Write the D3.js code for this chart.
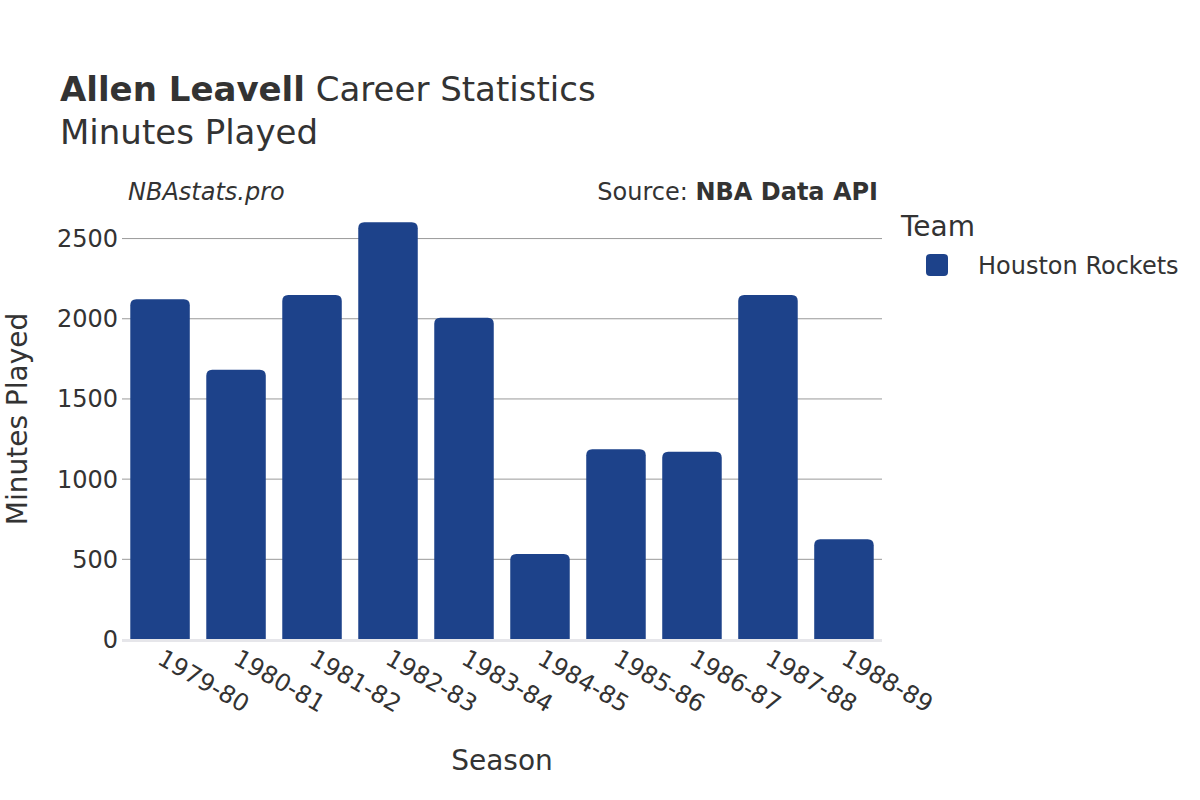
<!DOCTYPE html>
<html>
<head>
<meta charset="utf-8">
<script src="https://cdn.jsdelivr.net/npm/d3@7"></script>
<style>
  body { margin: 0; background: #fff; }
  svg, svg text { font-family: "DejaVu Sans", sans-serif; }
</style>
</head>
<body>
<svg width="1200" height="800"></svg>
<script>
const seasons = ["1979-80", "1980-81", "1981-82", "1982-83", "1983-84",
                 "1984-85", "1985-86", "1986-87", "1987-88", "1988-89"];
const minutes = [2118, 1679, 2145, 2598, 2003, 530, 1183, 1168, 2145, 622];
const yTicks = [0, 500, 1000, 1500, 2000, 2500];
const teams = ["Houston Rockets"];
const teamColors = ["#1d428a"];

const svg = d3.select("svg");
const plotLeft = 122, plotRight = 882, plotTop = 210, plotBottom = 639;

const x = d3.scaleBand().domain(seasons).range([plotLeft, plotRight])
    .paddingInner(0.217).paddingOuter(0.109);
const y = d3.scaleLinear().domain([0, 2675]).range([plotBottom, plotTop]);

// grid lines + y tick labels
const yAxisG = svg.append("g")
    .attr("transform", `translate(${plotLeft},0)`)
    .call(d3.axisLeft(y).tickValues(yTicks).tickFormat(d3.format("d"))
        .tickSize(-(plotRight - plotLeft)));
yAxisG.attr("font-family", null).attr("font-size", null);
yAxisG.select(".domain").remove();
yAxisG.selectAll("line")
    .attr("stroke", d => d === 0 ? "none" : "#999")
    .attr("stroke-width", 1);
yAxisG.selectAll("text")
    .attr("fill", "#333")
    .style("font-size", "24px")
    .attr("x", -4)
    .attr("dy", "0.35em");

// zero line
svg.append("line")
    .attr("x1", plotLeft).attr("x2", plotRight)
    .attr("y1", y(0) + 1.5).attr("y2", y(0) + 1.5)
    .attr("stroke", "#e6e6ea").attr("stroke-width", 3);

// bars (rounded tops)
function barPath(x0, w, yTop, yBot, r) {
    r = Math.min(r, (yBot - yTop));
    return `M${x0},${yBot}V${yTop + r}Q${x0},${yTop} ${x0 + r},${yTop}` +
        `H${x0 + w - r}Q${x0 + w},${yTop} ${x0 + w},${yTop + r}V${yBot}Z`;
}
svg.append("g").selectAll("path")
    .data(seasons)
    .join("path")
    .attr("d", (s, i) => barPath(x(s), x.bandwidth(), y(minutes[i]), y(0), 6))
    .attr("fill", teamColors[0]);

// x tick labels
const xAxisG = svg.append("g")
    .attr("transform", `translate(0,${plotBottom})`)
    .call(d3.axisBottom(x).tickSize(0));
xAxisG.attr("font-family", null).attr("font-size", null);
xAxisG.select(".domain").remove();
xAxisG.selectAll("text")
    .attr("fill", "#333")
    .style("font-size", "24px")
    .attr("text-anchor", "start")
    .attr("x", 0).attr("y", 0).attr("dy", "0")
    .attr("transform", "translate(-4,24) rotate(30)");

// titles
const title = svg.append("text").attr("x", 60).attr("y", 101)
    .attr("fill", "#333").style("font-size", "34px");
title.append("tspan").attr("font-weight", "bold").text("Allen Leavell");
title.append("tspan").text(" Career Statistics");
svg.append("text").attr("x", 60).attr("y", 144)
    .attr("fill", "#333").style("font-size", "34px").text("Minutes Played");

svg.append("text").attr("x", 128).attr("y", 200)
    .attr("fill", "#333").style("font-size", "24px").style("font-style", "italic")
    .text("NBAstats.pro");
const src = svg.append("text").attr("x", 878).attr("y", 200)
    .attr("text-anchor", "end")
    .attr("fill", "#333").style("font-size", "24px");
src.append("tspan").text("Source: ");
src.append("tspan").attr("font-weight", "bold").text("NBA Data API");

// axis titles
svg.append("text").attr("x", 502).attr("y", 770)
    .attr("text-anchor", "middle").attr("fill", "#333").style("font-size", "28px")
    .text("Season");
svg.append("text")
    .attr("transform", "translate(27,419) rotate(-90)")
    .attr("text-anchor", "middle").attr("fill", "#333").style("font-size", "28px")
    .text("Minutes Played");

// legend
svg.append("text").attr("x", 901).attr("y", 236)
    .attr("fill", "#333").style("font-size", "28px").text("Team");
const leg = svg.append("g").selectAll("g").data(teams).join("g")
    .attr("transform", (d, i) => `translate(926,${254 + i * 30})`);
leg.append("rect").attr("width", 22).attr("height", 22).attr("rx", 4)
    .attr("fill", (d, i) => teamColors[i]);
leg.append("text").attr("x", 52).attr("y", 20)
    .attr("fill", "#333").style("font-size", "24px").text(d => d);
</script>
</body>
</html>
